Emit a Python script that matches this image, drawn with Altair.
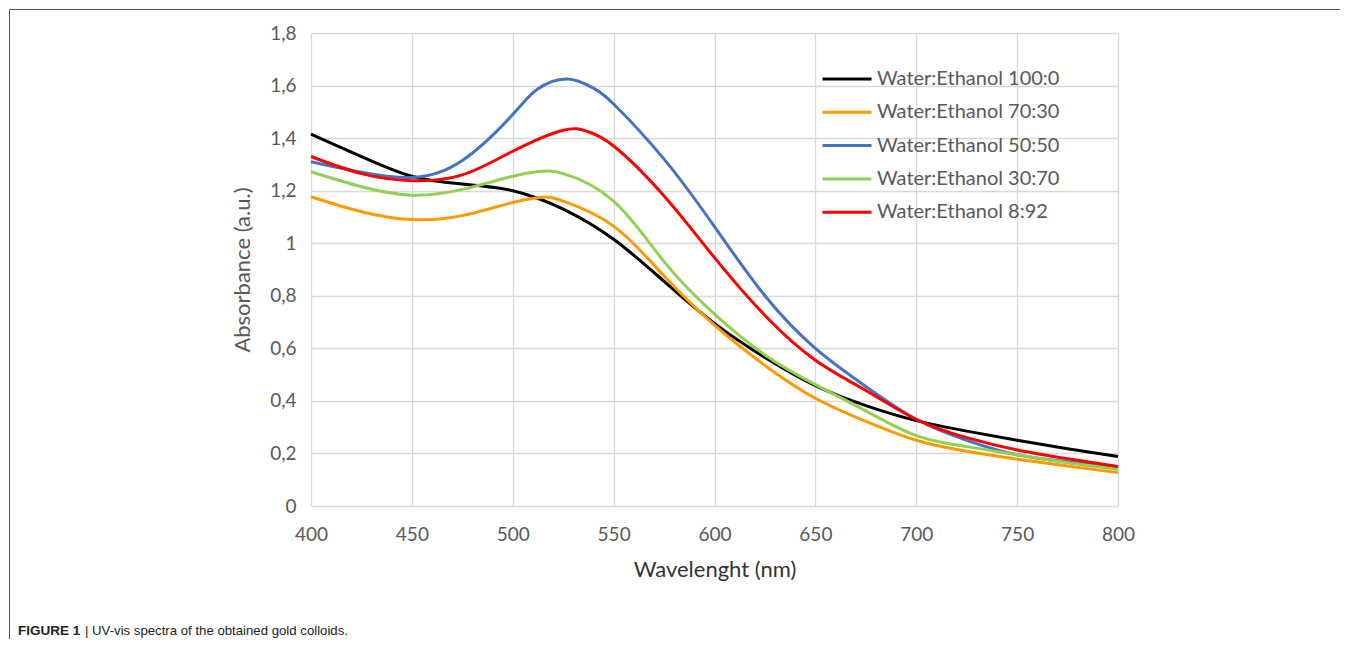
import altair as alt
import pandas as pd

# ---- data ----
series_names = [
    "Water:Ethanol 100:0",
    "Water:Ethanol 70:30",
    "Water:Ethanol 50:50",
    "Water:Ethanol 30:70",
    "Water:Ethanol 8:92",
]
series_colors = ["#000000", "#FF9900", "#4472C4", "#92D050", "#FF0000"]

wl_black = [400, 425, 450, 475, 500, 525, 550, 575, 600, 625, 650, 675, 700, 725, 750, 775, 800]
ab_black = [1.415, 1.33, 1.255, 1.225, 1.20, 1.13, 1.015, 0.855, 0.695, 0.565, 0.458, 0.382, 0.325, 0.285, 0.25, 0.218, 0.188]

wl_orange = [400, 425, 450, 475, 500, 515, 525, 550, 575, 600, 625, 650, 675, 700, 725, 750, 775, 800]
ab_orange = [1.177, 1.12, 1.09, 1.105, 1.155, 1.175, 1.16, 1.065, 0.875, 0.688, 0.535, 0.41, 0.322, 0.25, 0.208, 0.178, 0.152, 0.127]

wl_blue = [400, 425, 450, 475, 500, 512, 527, 540, 550, 575, 600, 625, 650, 675, 700, 725, 750, 775, 800]
ab_blue = [1.31, 1.27, 1.25, 1.315, 1.49, 1.585, 1.625, 1.59, 1.53, 1.32, 1.063, 0.80, 0.60, 0.455, 0.33, 0.25, 0.195, 0.168, 0.145]

wl_green = [400, 425, 450, 475, 500, 513, 525, 550, 575, 600, 625, 650, 675, 700, 725, 750, 775, 800]
ab_green = [1.272, 1.215, 1.183, 1.205, 1.255, 1.273, 1.265, 1.16, 0.93, 0.73, 0.575, 0.462, 0.362, 0.268, 0.226, 0.195, 0.165, 0.14]

wl_red = [400, 425, 450, 475, 500, 525, 537, 550, 575, 600, 625, 650, 675, 700, 725, 750, 775, 800]
ab_red = [1.33, 1.265, 1.238, 1.26, 1.35, 1.43, 1.425, 1.37, 1.18, 0.945, 0.725, 0.555, 0.44, 0.33, 0.26, 0.213, 0.18, 0.15]

x_ticks = [400, 450, 500, 550, 600, 650, 700, 750, 800]
y_ticks = [0, 0.2, 0.4, 0.6, 0.8, 1.0, 1.2, 1.4, 1.6, 1.8]

caption_bold = "FIGURE 1"
caption_rest = "| UV-vis spectra of the obtained gold colloids."

# ---- build long table ----
rows = []
for name, wl, ab in zip(
    series_names,
    [wl_black, wl_orange, wl_blue, wl_green, wl_red],
    [ab_black, ab_orange, ab_blue, ab_green, ab_red],
):
    for w, a in zip(wl, ab):
        rows.append({"series": name, "wl": w, "ab": a})
df = pd.DataFrame(rows)

PW, PH = 807, 473
PAD_L, PAD_T = 303, 25
SVG_W, SVG_H = 1332, 631

FONT = "Lato"
GRAY = "#595959"
CAP_FONT = "'Liberation Sans Narrow', 'Liberation Sans', sans-serif"

lines = alt.Chart(df).mark_line(strokeWidth=3, interpolate="natural").encode(
    x=alt.X(
        "wl:Q",
        scale=alt.Scale(domain=[400, 800], nice=False, zero=False),
        axis=alt.Axis(
            values=x_ticks,
            title="Wavelenght (nm)",
            grid=True,
            ticks=False,
            domain=False,
            labelFlush=False,
            labelPadding=19,
            titlePadding=15,
            labelFontSize=19,
            labelColor=GRAY,
            labelFont=FONT,
            titleFont=FONT,
            titleFontSize=22,
            titleFontWeight="normal",
            titleColor="#333333",
        ),
    ),
    y=alt.Y(
        "ab:Q",
        scale=alt.Scale(domain=[0, 1.8], nice=False),
        axis=alt.Axis(
            values=y_ticks,
            title="Absorbance (a.u.)",
            grid=True,
            ticks=False,
            domain=False,
            labelFlush=False,
            labelPadding=15,
            titlePadding=15,
            labelFontSize=19,
            labelColor=GRAY,
            labelFont=FONT,
            labelExpr="replace(toString(round(datum.value*10)/10), '.', ',')",
            titleFont=FONT,
            titleFontSize=22,
            titleFontWeight="normal",
            titleColor=GRAY,
        ),
    ),
    color=alt.Color(
        "series:N",
        scale=alt.Scale(domain=series_names, range=series_colors),
        legend=alt.Legend(
            title=None,
            orient="none",
            legendX=510,
            legendY=36,
            symbolType="stroke",
            symbolSize=2401,
            symbolStrokeWidth=3,
            clipHeight=20,
            rowPadding=13.3,
            labelOffset=4,
            labelLimit=0,
            labelFont=FONT,
            labelFontSize=20,
            labelColor=GRAY,
            padding=0,
        ),
    ),
)

cap_df = pd.DataFrame({"a": [caption_bold], "b": [caption_rest]})
cap1 = alt.Chart(cap_df).mark_text(
    align="left", baseline="alphabetic", fontSize=13.5, fontWeight="bold",
    font=CAP_FONT, color="#222222",
).encode(x=alt.value(18 - 311), y=alt.value(635 - 33), text="a:N")
cap2 = alt.Chart(cap_df).mark_text(
    align="left", baseline="alphabetic", fontSize=13.2,
    font=CAP_FONT, color="#222222",
).encode(x=alt.value(85 - 311), y=alt.value(635 - 33), text="b:N")

frame_df = pd.DataFrame({"k": [0]})
frame_top = alt.Chart(frame_df).mark_rule(color="#555555", strokeWidth=1).encode(
    x=alt.value(9.5 - 311), x2=alt.value(SVG_W - PAD_L), y=alt.value(9.5 - 33)
)
frame_left = alt.Chart(frame_df).mark_rule(color="#555555", strokeWidth=1).encode(
    x=alt.value(9.5 - 311), y=alt.value(9.5 - 33), y2=alt.value(SVG_H - PAD_T)
)

chart = alt.layer(lines, cap1, cap2, frame_top, frame_left).properties(
    width=PW,
    height=PH,
    autosize=alt.AutoSizeParams(type="none"),
    padding={"left": PAD_L, "top": PAD_T, "right": SVG_W - PAD_L - PW, "bottom": SVG_H - PAD_T - PH},
).configure_view(stroke=None).configure_axis(
    gridColor="#d9d9d9", gridWidth=1.3
)

chart.save("out.html", embed_options={"renderer": "svg", "actions": False})
